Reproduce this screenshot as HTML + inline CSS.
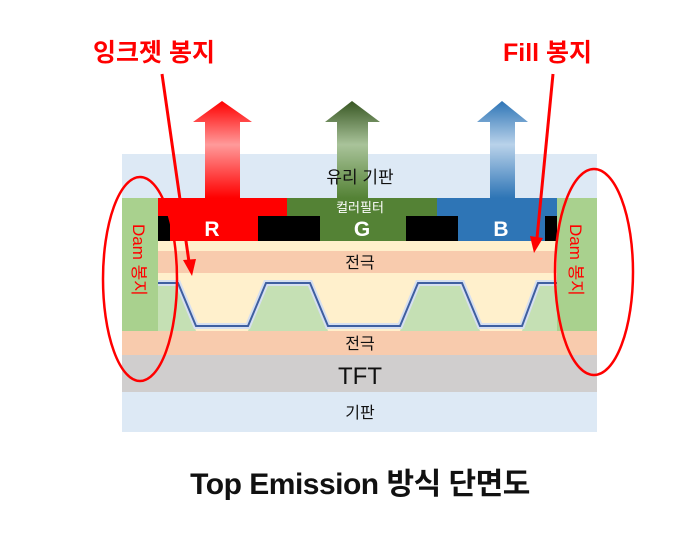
<!DOCTYPE html>
<html><head><meta charset="utf-8"><style>
html,body{margin:0;padding:0;background:#fff;width:680px;height:540px;overflow:hidden}
text{font-family:"Liberation Sans","Noto Sans CJK KR",sans-serif}
</style></head><body>
<svg width="680" height="540" viewBox="0 0 680 540" xmlns="http://www.w3.org/2000/svg">
<defs>
<linearGradient id="gr" x1="0" y1="1" x2="0" y2="0"><stop offset="0" stop-color="#ff0000"/><stop offset="0.55" stop-color="#ff9a9a"/><stop offset="1" stop-color="#ff0000"/></linearGradient>
<linearGradient id="gg" x1="0" y1="1" x2="0" y2="0"><stop offset="0" stop-color="#548235"/><stop offset="0.55" stop-color="#a9c39a"/><stop offset="1" stop-color="#385723"/></linearGradient>
<linearGradient id="gb" x1="0" y1="1" x2="0" y2="0"><stop offset="0" stop-color="#2e75b6"/><stop offset="0.55" stop-color="#b9d2ea"/><stop offset="1" stop-color="#2e75b6"/></linearGradient>
</defs>
<rect x="122" y="154" width="475" height="278" fill="#dde9f5"/>
<rect x="122" y="241" width="475" height="90" fill="#fff0cc"/>
<rect x="122" y="251" width="475" height="22" fill="#f8cbad"/>
<rect x="122" y="331" width="475" height="24" fill="#f8cbad"/>
<rect x="122" y="355" width="475" height="37" fill="#d0cece"/>
<g fill="#c5e0b4">
<polygon points="158,283 178,283 196,331 158,331"/>
<polygon points="248,331 266,283 310,283 328,331"/>
<polygon points="400,331 418,283 462,283 480,331"/>
<polygon points="522,331 538,283 557,283 557,331"/>
</g>
<polyline points="158,283 178,283 196,326 248,326 266,283 310,283 328,326 400,326 418,283 462,283 480,326 522,326 538,283 557,283" fill="none" stroke="#d6dff0" stroke-width="6"/>
<polyline points="158,283 178,283 196,326 248,326 266,283 310,283 328,326 400,326 418,283 462,283 480,326 522,326 538,283 557,283" fill="none" stroke="#3f5fa0" stroke-width="2"/>
<rect x="122" y="198" width="36" height="133" fill="#a9d18e"/>
<rect x="557" y="198" width="40" height="133" fill="#a9d18e"/>
<rect x="158" y="198" width="129" height="43" fill="#ff0000"/>
<rect x="287" y="198" width="150" height="43" fill="#548235"/>
<rect x="437" y="198" width="120" height="43" fill="#2e75b6"/>
<rect x="158" y="216" width="12" height="25" fill="#000"/>
<rect x="258" y="216" width="62" height="25" fill="#000"/>
<rect x="406" y="216" width="52" height="25" fill="#000"/>
<rect x="545" y="216" width="12" height="25" fill="#000"/>
<polygon points="205,198 205,122 193,122 222,101 252,122 240,122 240,198" fill="url(#gr)"/>
<polygon points="337,198 337,122 325,122 352,101 380,122 368,122 368,198" fill="url(#gg)"/>
<polygon points="490,198 490,122 477,122 502,101 528,122 515,122 515,198" fill="url(#gb)"/>
<text x="360" y="183" font-size="17" text-anchor="middle" fill="#111">유리 기판</text>
<text x="360" y="212" font-size="13" text-anchor="middle" fill="#fff">컬러필터</text>
<text x="212" y="236" font-size="21" font-weight="bold" text-anchor="middle" fill="#fff">R</text>
<text x="362" y="236" font-size="21" font-weight="bold" text-anchor="middle" fill="#fff">G</text>
<text x="501" y="236" font-size="21" font-weight="bold" text-anchor="middle" fill="#fff">B</text>
<text x="360" y="268" font-size="16" text-anchor="middle" fill="#111">전극</text>
<text x="360" y="349" font-size="16" text-anchor="middle" fill="#111">전극</text>
<text x="360" y="384" font-size="24" text-anchor="middle" fill="#111">TFT</text>
<text x="360" y="418" font-size="16" text-anchor="middle" fill="#111">기판</text>
<text transform="translate(133,224) rotate(90)" font-size="17" fill="#ff0000">Dam 봉지</text>
<text transform="translate(570,224) rotate(90)" font-size="17" fill="#ff0000">Dam 봉지</text>
<ellipse cx="140" cy="279" rx="37" ry="102" fill="none" stroke="#ff0000" stroke-width="2.5"/>
<ellipse cx="594" cy="272" rx="39" ry="103" fill="none" stroke="#ff0000" stroke-width="2.5"/>
<line x1="162" y1="74" x2="189" y2="262" stroke="#ff0000" stroke-width="3"/>
<polygon points="183,260 196,259 192,276" fill="#ff0000"/>
<line x1="553" y1="74" x2="537" y2="238" stroke="#ff0000" stroke-width="3"/>
<polygon points="530,236 543,238 534,253" fill="#ff0000"/>
<text x="93" y="61" font-size="25" font-weight="bold" fill="#ff0000">잉크젯 봉지</text>
<text x="503" y="61" font-size="25" font-weight="bold" fill="#ff0000">Fill 봉지</text>
<text x="360" y="494" font-size="30" font-weight="bold" text-anchor="middle" fill="#111" letter-spacing="-0.5">Top Emission 방식 단면도</text>
</svg>
</body></html>
